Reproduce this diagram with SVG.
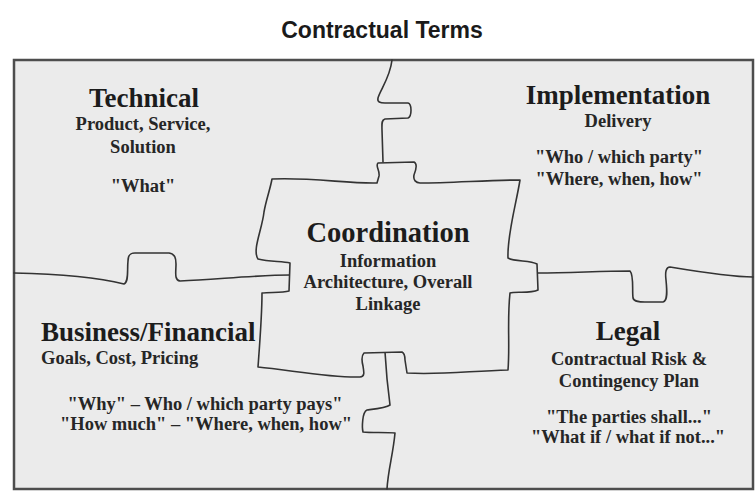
<svg xmlns="http://www.w3.org/2000/svg" width="755" height="492" viewBox="0 0 755 492">
<style>
.frame{fill:#ebebeb;stroke:#4d4d4d;stroke-width:2.5}
.cut{fill:none;stroke:#333;stroke-width:1.6;stroke-linejoin:round;stroke-linecap:round}
.piece{fill:#ebebeb;stroke:#333;stroke-width:1.6;stroke-linejoin:round}
.h{font-family:"Liberation Serif","Times New Roman",serif;font-weight:bold;font-size:27px;fill:#1c1c1c;text-anchor:middle}
.s{font-family:"Liberation Serif","Times New Roman",serif;font-weight:bold;font-size:18.5px;fill:#262626;text-anchor:middle}
.l{text-anchor:start}
.title{font-family:"Liberation Sans",Arial,sans-serif;font-weight:bold;font-size:23px;fill:#1a1a1a;text-anchor:middle}
</style>
<rect width="755" height="492" fill="#fff"/>
<text class="title" x="382" y="38">Contractual Terms</text>
<rect class="frame" x="14" y="60" width="739" height="429"/>
<g id="connectors">
<path class="cut" d="M392,60 C390,78 380,90 378,98 C377,102 380,103 385,103 L408,103 C412,104 412,116 408,118 L385,119 C381,120 382,125 382,130 L383,162"/>
<path class="cut" d="M14,273 C60,274 100,278 124,284 C129,282 127,270 128,261 C128,255 130,253 135,253 L169,253 C175,254 176,258 176,264 C176,272 174,280 180,281 C220,279 260,275 290,275"/>
<path class="cut" d="M538,273 C570,273 600,271 630,271 C634,275 632,290 633,298 C634,302 640,302 645,302 L663,302 C668,301 667,290 666,280 C665,272 666,267 670,267 C700,272 730,277 753,277"/>
<path class="cut" d="M385,352 C386,370 388,390 390,405 C386,408 375,409 367,410 C362,412 362,428 363,432 C372,433 385,432 395,433 C393,455 388,470 387,489"/>
</g>
<g id="coordination">
<path class="piece" d="M272,179 C310,177 350,184 377,183 L379,176 C380,170 375,166 378,163 L414,162 C418,164 416,170 414,175 C413,180 416,183 420,183 C450,183 490,180 520,180 C516,205 507,235 508,258 C515,262 530,260 537,264 L538,290 C530,294 515,291 510,293 C507,320 510,345 508,370 C470,371 440,375 407,373 L405,360 C405,355 404,353 402,352 L364,353 C361,356 362,362 363,366 C364,372 365,377 360,377 C330,378 290,370 258,367 C260,340 262,315 262,293 C270,292 282,293 289,291 L290,263 C282,261 270,262 258,259 C252,250 262,230 264,212 C266,200 270,190 272,179 Z"/>
<text class="h" x="388" y="242" style="font-size:28.5px">Coordination</text>
<text class="s" x="388" y="267">Information</text>
<text class="s" x="388" y="288">Architecture, Overall</text>
<text class="s" x="388" y="310">Linkage</text>
</g>
<g id="technical">
<text class="h" x="144" y="107">Technical</text>
<text class="s" x="143" y="130">Product, Service,</text>
<text class="s" x="143" y="153">Solution</text>
<text class="s" x="143" y="192">"What"</text>
</g>
<g id="implementation">
<text class="h" x="618" y="104">Implementation</text>
<text class="s" x="618" y="127">Delivery</text>
<text class="s" x="619" y="163">"Who / which party"</text>
<text class="s" x="619" y="185">"Where, when, how"</text>
</g>
<g id="business">
<text class="h l" x="41" y="341">Business/Financial</text>
<text class="s l" x="41" y="364">Goals, Cost, Pricing</text>
<text class="s" x="205" y="410">"Why" – Who / which party pays"</text>
<text class="s" x="206" y="430">"How much" – "Where, when, how"</text>
</g>
<g id="legal">
<text class="h" x="628" y="340">Legal</text>
<text class="s" x="629" y="365">Contractual Risk &amp;</text>
<text class="s" x="629" y="387">Contingency Plan</text>
<text class="s" x="629" y="423">"The parties shall..."</text>
<text class="s" x="628" y="443">"What if / what if not..."</text>
</g>
</svg>
